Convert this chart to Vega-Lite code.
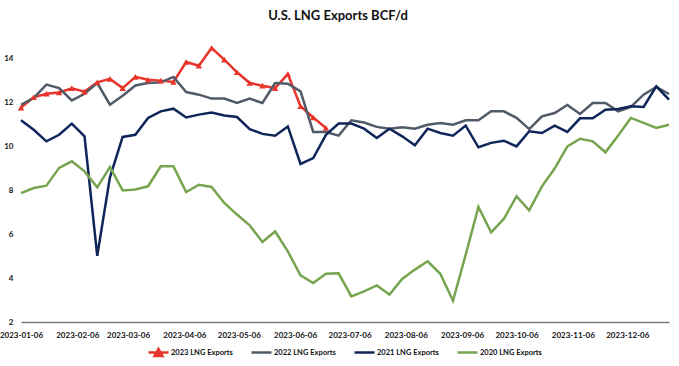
{
  "$schema": "https://vega.github.io/schema/vega-lite/v6.json",
  "width": 648,
  "height": 285,
  "autosize": "none",
  "padding": {"left": 21, "top": 37, "right": 10, "bottom": 44},
  "background": "white",
  "title": {"text": "U.S. LNG Exports BCF/d", "font": "Lato", "fontSize": 13, "fontWeight": "bold", "color": "#111111", "anchor": "middle", "offset": 14, "dx": -7},
  "config": {
    "view": {"stroke": null},
    "axis": {"grid": false, "ticks": false, "labelFont": "Lato", "labelFontWeight": "bold", "labelFontSize": 8, "labelColor": "#111111", "title": null}
  },
  "data": {"values": [
    {"date":"2023-01-06","series":"2023 LNG Exports","value":11.78},
    {"date":"2023-01-13","series":"2023 LNG Exports","value":12.25},
    {"date":"2023-01-20","series":"2023 LNG Exports","value":12.41},
    {"date":"2023-01-27","series":"2023 LNG Exports","value":12.47},
    {"date":"2023-02-03","series":"2023 LNG Exports","value":12.66},
    {"date":"2023-02-10","series":"2023 LNG Exports","value":12.51},
    {"date":"2023-02-17","series":"2023 LNG Exports","value":12.93},
    {"date":"2023-02-24","series":"2023 LNG Exports","value":13.09},
    {"date":"2023-03-03","series":"2023 LNG Exports","value":12.67},
    {"date":"2023-03-10","series":"2023 LNG Exports","value":13.18},
    {"date":"2023-03-17","series":"2023 LNG Exports","value":13.05},
    {"date":"2023-03-24","series":"2023 LNG Exports","value":13.01},
    {"date":"2023-03-31","series":"2023 LNG Exports","value":12.95},
    {"date":"2023-04-07","series":"2023 LNG Exports","value":13.86},
    {"date":"2023-04-14","series":"2023 LNG Exports","value":13.69},
    {"date":"2023-04-21","series":"2023 LNG Exports","value":14.5},
    {"date":"2023-04-28","series":"2023 LNG Exports","value":13.97},
    {"date":"2023-05-05","series":"2023 LNG Exports","value":13.39},
    {"date":"2023-05-12","series":"2023 LNG Exports","value":12.9},
    {"date":"2023-05-19","series":"2023 LNG Exports","value":12.78},
    {"date":"2023-05-26","series":"2023 LNG Exports","value":12.67},
    {"date":"2023-06-02","series":"2023 LNG Exports","value":13.31},
    {"date":"2023-06-09","series":"2023 LNG Exports","value":11.84},
    {"date":"2023-06-16","series":"2023 LNG Exports","value":11.33},
    {"date":"2023-06-23","series":"2023 LNG Exports","value":10.85},

    {"date":"2023-01-06","series":"2022 LNG Exports","value":11.91},
    {"date":"2023-01-13","series":"2022 LNG Exports","value":12.22},
    {"date":"2023-01-20","series":"2022 LNG Exports","value":12.83},
    {"date":"2023-01-27","series":"2022 LNG Exports","value":12.67},
    {"date":"2023-02-03","series":"2022 LNG Exports","value":12.11},
    {"date":"2023-02-10","series":"2022 LNG Exports","value":12.41},
    {"date":"2023-02-17","series":"2022 LNG Exports","value":12.9},
    {"date":"2023-02-24","series":"2022 LNG Exports","value":11.91},
    {"date":"2023-03-03","series":"2022 LNG Exports","value":12.32},
    {"date":"2023-03-10","series":"2022 LNG Exports","value":12.79},
    {"date":"2023-03-17","series":"2022 LNG Exports","value":12.9},
    {"date":"2023-03-24","series":"2022 LNG Exports","value":12.93},
    {"date":"2023-03-31","series":"2022 LNG Exports","value":13.18},
    {"date":"2023-04-07","series":"2022 LNG Exports","value":12.49},
    {"date":"2023-04-14","series":"2022 LNG Exports","value":12.37},
    {"date":"2023-04-21","series":"2022 LNG Exports","value":12.19},
    {"date":"2023-04-28","series":"2022 LNG Exports","value":12.19},
    {"date":"2023-05-05","series":"2022 LNG Exports","value":11.99},
    {"date":"2023-05-12","series":"2022 LNG Exports","value":12.19},
    {"date":"2023-05-19","series":"2022 LNG Exports","value":11.99},
    {"date":"2023-05-26","series":"2022 LNG Exports","value":12.9},
    {"date":"2023-06-02","series":"2022 LNG Exports","value":12.87},
    {"date":"2023-06-09","series":"2022 LNG Exports","value":12.52},
    {"date":"2023-06-16","series":"2022 LNG Exports","value":10.67},
    {"date":"2023-06-23","series":"2022 LNG Exports","value":10.67},
    {"date":"2023-06-30","series":"2022 LNG Exports","value":10.5},
    {"date":"2023-07-07","series":"2022 LNG Exports","value":11.2},
    {"date":"2023-07-14","series":"2022 LNG Exports","value":11.1},
    {"date":"2023-07-21","series":"2022 LNG Exports","value":10.9},
    {"date":"2023-07-28","series":"2022 LNG Exports","value":10.82},
    {"date":"2023-08-04","series":"2022 LNG Exports","value":10.88},
    {"date":"2023-08-11","series":"2022 LNG Exports","value":10.82},
    {"date":"2023-08-18","series":"2022 LNG Exports","value":11.0},
    {"date":"2023-08-25","series":"2022 LNG Exports","value":11.08},
    {"date":"2023-09-01","series":"2022 LNG Exports","value":11.0},
    {"date":"2023-09-08","series":"2022 LNG Exports","value":11.2},
    {"date":"2023-09-15","series":"2022 LNG Exports","value":11.2},
    {"date":"2023-09-22","series":"2022 LNG Exports","value":11.61},
    {"date":"2023-09-29","series":"2022 LNG Exports","value":11.61},
    {"date":"2023-10-06","series":"2022 LNG Exports","value":11.31},
    {"date":"2023-10-13","series":"2022 LNG Exports","value":10.8},
    {"date":"2023-10-20","series":"2022 LNG Exports","value":11.38},
    {"date":"2023-10-27","series":"2022 LNG Exports","value":11.53},
    {"date":"2023-11-03","series":"2022 LNG Exports","value":11.9},
    {"date":"2023-11-10","series":"2022 LNG Exports","value":11.49},
    {"date":"2023-11-17","series":"2022 LNG Exports","value":11.99},
    {"date":"2023-11-24","series":"2022 LNG Exports","value":11.99},
    {"date":"2023-12-01","series":"2022 LNG Exports","value":11.61},
    {"date":"2023-12-08","series":"2022 LNG Exports","value":11.81},
    {"date":"2023-12-15","series":"2022 LNG Exports","value":12.37},
    {"date":"2023-12-22","series":"2022 LNG Exports","value":12.72},
    {"date":"2023-12-29","series":"2022 LNG Exports","value":12.4},

    {"date":"2023-01-06","series":"2021 LNG Exports","value":11.2},
    {"date":"2023-01-13","series":"2021 LNG Exports","value":10.77},
    {"date":"2023-01-20","series":"2021 LNG Exports","value":10.24},
    {"date":"2023-01-27","series":"2021 LNG Exports","value":10.54},
    {"date":"2023-02-03","series":"2021 LNG Exports","value":11.05},
    {"date":"2023-02-10","series":"2021 LNG Exports","value":10.47},
    {"date":"2023-02-17","series":"2021 LNG Exports","value":5.02},
    {"date":"2023-02-24","series":"2021 LNG Exports","value":8.6},
    {"date":"2023-03-03","series":"2021 LNG Exports","value":10.44},
    {"date":"2023-03-10","series":"2021 LNG Exports","value":10.54},
    {"date":"2023-03-17","series":"2021 LNG Exports","value":11.31},
    {"date":"2023-03-24","series":"2021 LNG Exports","value":11.61},
    {"date":"2023-03-31","series":"2021 LNG Exports","value":11.73},
    {"date":"2023-04-07","series":"2021 LNG Exports","value":11.33},
    {"date":"2023-04-14","series":"2021 LNG Exports","value":11.46},
    {"date":"2023-04-21","series":"2021 LNG Exports","value":11.56},
    {"date":"2023-04-28","series":"2021 LNG Exports","value":11.42},
    {"date":"2023-05-05","series":"2021 LNG Exports","value":11.35},
    {"date":"2023-05-12","series":"2021 LNG Exports","value":10.8},
    {"date":"2023-05-19","series":"2021 LNG Exports","value":10.58},
    {"date":"2023-05-26","series":"2021 LNG Exports","value":10.5},
    {"date":"2023-06-02","series":"2021 LNG Exports","value":10.92},
    {"date":"2023-06-09","series":"2021 LNG Exports","value":9.21},
    {"date":"2023-06-16","series":"2021 LNG Exports","value":9.48},
    {"date":"2023-06-23","series":"2021 LNG Exports","value":10.54},
    {"date":"2023-06-30","series":"2021 LNG Exports","value":11.05},
    {"date":"2023-07-07","series":"2021 LNG Exports","value":11.05},
    {"date":"2023-07-14","series":"2021 LNG Exports","value":10.82},
    {"date":"2023-07-21","series":"2021 LNG Exports","value":10.39},
    {"date":"2023-07-28","series":"2021 LNG Exports","value":10.82},
    {"date":"2023-08-04","series":"2021 LNG Exports","value":10.47},
    {"date":"2023-08-11","series":"2021 LNG Exports","value":10.06},
    {"date":"2023-08-18","series":"2021 LNG Exports","value":10.82},
    {"date":"2023-08-25","series":"2021 LNG Exports","value":10.62},
    {"date":"2023-09-01","series":"2021 LNG Exports","value":10.5},
    {"date":"2023-09-08","series":"2021 LNG Exports","value":10.96},
    {"date":"2023-09-15","series":"2021 LNG Exports","value":9.97},
    {"date":"2023-09-22","series":"2021 LNG Exports","value":10.17},
    {"date":"2023-09-29","series":"2021 LNG Exports","value":10.27},
    {"date":"2023-10-06","series":"2021 LNG Exports","value":10.01},
    {"date":"2023-10-13","series":"2021 LNG Exports","value":10.7},
    {"date":"2023-10-20","series":"2021 LNG Exports","value":10.62},
    {"date":"2023-10-27","series":"2021 LNG Exports","value":10.96},
    {"date":"2023-11-03","series":"2021 LNG Exports","value":10.67},
    {"date":"2023-11-10","series":"2021 LNG Exports","value":11.29},
    {"date":"2023-11-17","series":"2021 LNG Exports","value":11.29},
    {"date":"2023-11-24","series":"2021 LNG Exports","value":11.68},
    {"date":"2023-12-01","series":"2021 LNG Exports","value":11.72},
    {"date":"2023-12-08","series":"2021 LNG Exports","value":11.84},
    {"date":"2023-12-15","series":"2021 LNG Exports","value":11.81},
    {"date":"2023-12-22","series":"2021 LNG Exports","value":12.75},
    {"date":"2023-12-29","series":"2021 LNG Exports","value":12.14},

    {"date":"2023-01-06","series":"2020 LNG Exports","value":7.88},
    {"date":"2023-01-13","series":"2020 LNG Exports","value":8.11},
    {"date":"2023-01-20","series":"2020 LNG Exports","value":8.22},
    {"date":"2023-01-27","series":"2020 LNG Exports","value":9.03},
    {"date":"2023-02-03","series":"2020 LNG Exports","value":9.33},
    {"date":"2023-02-10","series":"2020 LNG Exports","value":8.87},
    {"date":"2023-02-17","series":"2020 LNG Exports","value":8.14},
    {"date":"2023-02-24","series":"2020 LNG Exports","value":9.07},
    {"date":"2023-03-03","series":"2020 LNG Exports","value":8.0},
    {"date":"2023-03-10","series":"2020 LNG Exports","value":8.04},
    {"date":"2023-03-17","series":"2020 LNG Exports","value":8.19},
    {"date":"2023-03-24","series":"2020 LNG Exports","value":9.1},
    {"date":"2023-03-31","series":"2020 LNG Exports","value":9.1},
    {"date":"2023-04-07","series":"2020 LNG Exports","value":7.93},
    {"date":"2023-04-14","series":"2020 LNG Exports","value":8.26},
    {"date":"2023-04-21","series":"2020 LNG Exports","value":8.16},
    {"date":"2023-04-28","series":"2020 LNG Exports","value":7.43},
    {"date":"2023-05-05","series":"2020 LNG Exports","value":6.9},
    {"date":"2023-05-12","series":"2020 LNG Exports","value":6.41},
    {"date":"2023-05-19","series":"2020 LNG Exports","value":5.65},
    {"date":"2023-05-26","series":"2020 LNG Exports","value":6.13},
    {"date":"2023-06-02","series":"2020 LNG Exports","value":5.22},
    {"date":"2023-06-09","series":"2020 LNG Exports","value":4.13},
    {"date":"2023-06-16","series":"2020 LNG Exports","value":3.78},
    {"date":"2023-06-23","series":"2020 LNG Exports","value":4.2},
    {"date":"2023-06-30","series":"2020 LNG Exports","value":4.22},
    {"date":"2023-07-07","series":"2020 LNG Exports","value":3.17},
    {"date":"2023-07-14","series":"2020 LNG Exports","value":3.4},
    {"date":"2023-07-21","series":"2020 LNG Exports","value":3.67},
    {"date":"2023-07-28","series":"2020 LNG Exports","value":3.25},
    {"date":"2023-08-04","series":"2020 LNG Exports","value":3.96},
    {"date":"2023-08-11","series":"2020 LNG Exports","value":4.39},
    {"date":"2023-08-18","series":"2020 LNG Exports","value":4.77},
    {"date":"2023-08-25","series":"2020 LNG Exports","value":4.2},
    {"date":"2023-09-01","series":"2020 LNG Exports","value":2.97},
    {"date":"2023-09-08","series":"2020 LNG Exports","value":5.07},
    {"date":"2023-09-15","series":"2020 LNG Exports","value":7.25},
    {"date":"2023-09-22","series":"2020 LNG Exports","value":6.09},
    {"date":"2023-09-29","series":"2020 LNG Exports","value":6.7},
    {"date":"2023-10-06","series":"2020 LNG Exports","value":7.73},
    {"date":"2023-10-13","series":"2020 LNG Exports","value":7.09},
    {"date":"2023-10-20","series":"2020 LNG Exports","value":8.19},
    {"date":"2023-10-27","series":"2020 LNG Exports","value":9.0},
    {"date":"2023-11-03","series":"2020 LNG Exports","value":10.01},
    {"date":"2023-11-10","series":"2020 LNG Exports","value":10.36},
    {"date":"2023-11-17","series":"2020 LNG Exports","value":10.24},
    {"date":"2023-11-24","series":"2020 LNG Exports","value":9.74},
    {"date":"2023-12-01","series":"2020 LNG Exports","value":10.51},
    {"date":"2023-12-08","series":"2020 LNG Exports","value":11.31},
    {"date":"2023-12-15","series":"2020 LNG Exports","value":11.08},
    {"date":"2023-12-22","series":"2020 LNG Exports","value":10.85},
    {"date":"2023-12-29","series":"2020 LNG Exports","value":11.0}
  ]},
  "encoding": {
    "x": {
      "field": "date", "type": "temporal",
      "scale": {"type": "utc", "domain": [{"year": 2023, "month": 1, "date": 6, "utc": true}, {"year": 2023, "month": 12, "date": 29, "utc": true}], "nice": false},
      "axis": {
        "values": [
          {"year": 2023, "month": 1, "date": 6, "utc": true},
          {"year": 2023, "month": 2, "date": 6, "utc": true},
          {"year": 2023, "month": 3, "date": 6, "utc": true},
          {"year": 2023, "month": 4, "date": 6, "utc": true},
          {"year": 2023, "month": 5, "date": 6, "utc": true},
          {"year": 2023, "month": 6, "date": 6, "utc": true},
          {"year": 2023, "month": 7, "date": 6, "utc": true},
          {"year": 2023, "month": 8, "date": 6, "utc": true},
          {"year": 2023, "month": 9, "date": 6, "utc": true},
          {"year": 2023, "month": 10, "date": 6, "utc": true},
          {"year": 2023, "month": 11, "date": 6, "utc": true},
          {"year": 2023, "month": 12, "date": 6, "utc": true}
        ],
        "format": "%Y-%m-%d",
        "domain": true, "domainColor": "#7a7a7a", "domainWidth": 1.5,
        "labelPadding": 9, "labelOverlap": false, "labelFlush": false
      }
    },
    "y": {
      "field": "value", "type": "quantitative",
      "scale": {"domain": [2, 15], "nice": false, "zero": false},
      "axis": {"values": [2, 4, 6, 8, 10, 12, 14], "domain": false, "labelPadding": 8}
    }
  },
  "layer": [
    {
      "mark": {"type": "line", "strokeWidth": 2.5, "strokeJoin": "miter"},
      "encoding": {
        "color": {
          "field": "series", "type": "nominal",
          "scale": {"domain": ["2023 LNG Exports", "2022 LNG Exports", "2021 LNG Exports", "2020 LNG Exports"], "range": ["#e8352b", "#515b68", "#10265a", "#77a54f"]},
          "legend": {
            "orient": "none", "legendX": 126, "legendY": 304, "direction": "horizontal", "columns": 4, "gridAlign": "none",
            "title": null, "symbolSize": 400, "symbolStrokeWidth": 2.5, "symbolType": "stroke",
            "labelFont": "Lato", "labelFontWeight": "bold", "labelFontSize": 7.5, "labelColor": "#111111",
            "labelOffset": 1, "columnPadding": 13,
            "encode": {"symbols": {"update": {
              "shape": {"signal": "datum.value === '2023 LNG Exports' ? 'M-1,0L1,0M-0.4,0.35L0,-0.35L0.4,0.35Z' : 'stroke'"},
              "fill": {"signal": "datum.value === '2023 LNG Exports' ? '#e8352b' : 'transparent'"}
            }}}
          }
        },
        "order": {"field": "date", "type": "temporal"}
      }
    },
    {
      "transform": [{"filter": "datum.series === '2023 LNG Exports'"}],
      "mark": {"type": "point", "shape": "triangle-up", "filled": true, "size": 42, "color": "#e8352b", "opacity": 1}
    }
  ]
}
